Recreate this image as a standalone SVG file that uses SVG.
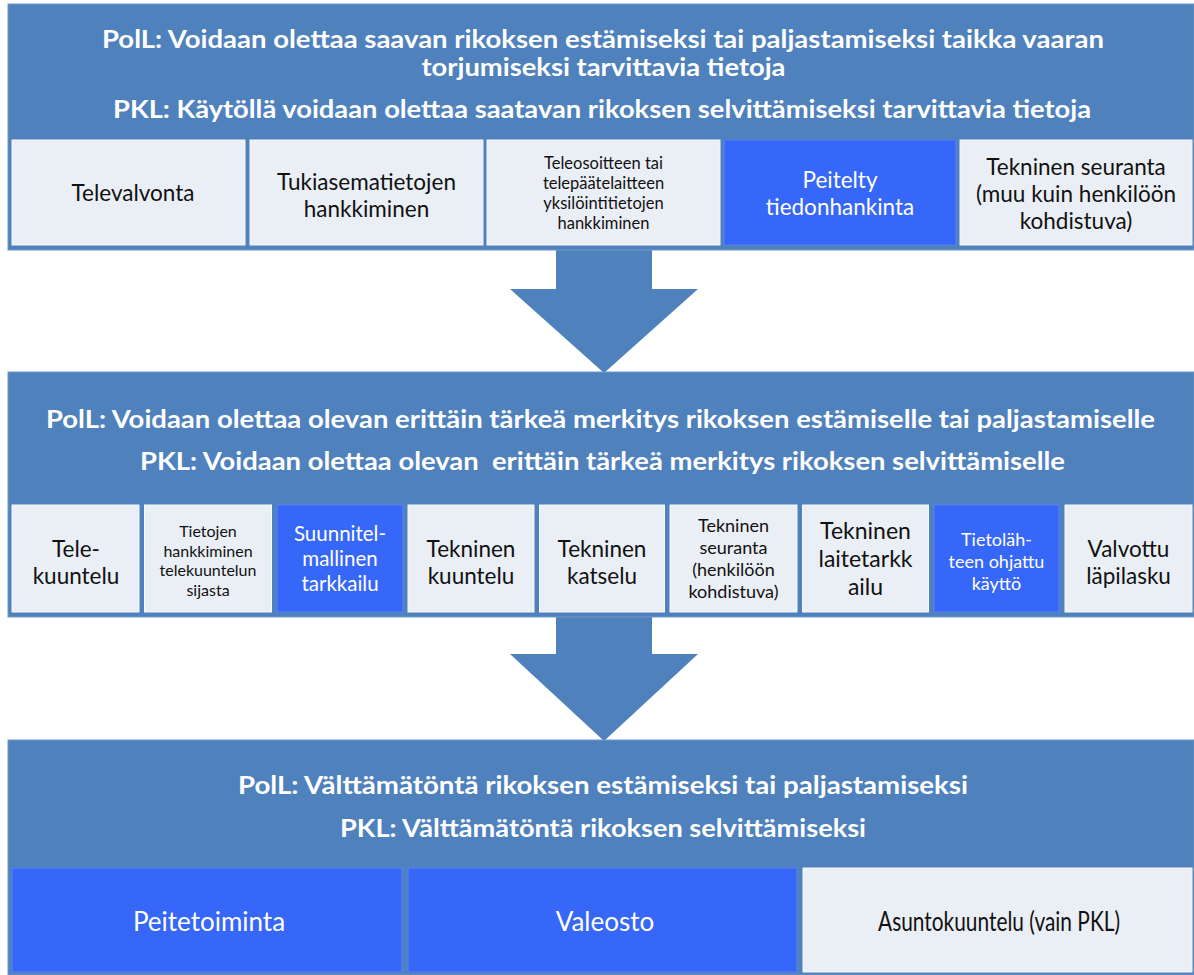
<svg xmlns="http://www.w3.org/2000/svg" width="1194" height="975" viewBox="0 0 1194 975">
<style>
.panel{fill:#4F81BD;stroke:#6F97C9;stroke-width:1}
.lt{fill:#EAEEF5;stroke:#F6F8FB;stroke-width:1}
.bl{fill:#3667F8;stroke:#5A84F5;stroke-width:1}
.hd{font-family:Lato,"Open Sans",sans-serif;font-weight:bold;fill:#ffffff;text-anchor:middle;font-size:24px}
.t{font-family:Lato,"Open Sans",sans-serif;fill:#111111;text-anchor:middle;font-size:22.5px}
.w{fill:#ffffff}
.b{font-size:26px}
.s16{font-size:16px}
.s165{font-size:16.5px}
.s18{font-size:18px}
.s205{font-size:20.5px}
.s23{font-size:23px}
.arrow{fill:#4F81BD}
</style>
<rect width="1194" height="975" fill="#ffffff"/>
<g id="connectors">
<polygon class="arrow" points="556,249 652,249 652,289 698,289 604,373 510,289 556,289"/>
<polygon class="arrow" points="556,616 652,616 652,654 698,654 604,741 510,654 556,654"/>
</g>
<g id="panel1">
<rect class="panel" x="8" y="4" width="1186" height="246"/>
<text class="hd" x="603" y="48" textLength="1002" lengthAdjust="spacingAndGlyphs">PolL: Voidaan olettaa saavan rikoksen estämiseksi tai paljastamiseksi taikka vaaran</text>
<text class="hd" x="603.5" y="76" textLength="364" lengthAdjust="spacingAndGlyphs">torjumiseksi tarvittavia tietoja</text>
<text class="hd" x="602" y="118" textLength="978" lengthAdjust="spacingAndGlyphs">PKL: Käytöllä voidaan olettaa saatavan rikoksen selvittämiseksi tarvittavia tietoja</text>
</g>
<g id="n-televalvonta"><rect class="lt" x="12" y="140" width="233" height="105"/><text class="t" x="133" y="201">Televalvonta</text></g>
<g id="n-tukiasema"><rect class="lt" x="250" y="140" width="233" height="105"/><text class="t" x="366.5" y="190">Tukiasematietojen</text><text class="t" x="366.5" y="217">hankkiminen</text></g>
<g id="n-teleosoite"><rect class="lt" x="487" y="140" width="233" height="105"/><text class="t s165" x="603.5" y="169">Teleosoitteen tai</text><text class="t s165" x="603.5" y="189">telepäätelaitteen</text><text class="t s165" x="603.5" y="209">yksilöintitietojen</text><text class="t s165" x="603.5" y="229">hankkiminen</text></g>
<g id="n-peitelty"><rect class="bl" x="724" y="140" width="232" height="105"/><text class="t w" x="840" y="188">Peitelty</text><text class="t w" x="840" y="215">tiedonhankinta</text></g>
<g id="n-tekninen-seuranta1"><rect class="lt" x="960" y="140" width="232" height="105"/><text class="t" x="1076" y="175">Tekninen seuranta</text><text class="t" x="1076" y="202">(muu kuin henkilöön</text><text class="t" x="1076" y="229">kohdistuva)</text></g>
<g id="panel2">
<rect class="panel" x="8" y="372" width="1186" height="245"/>
<text class="hd" x="600.5" y="428" textLength="1109" lengthAdjust="spacingAndGlyphs">PolL: Voidaan olettaa olevan erittäin tärkeä merkitys rikoksen estämiselle tai paljastamiselle</text>
<text class="hd" x="602.5" y="470" textLength="925" lengthAdjust="spacingAndGlyphs" xml:space="preserve">PKL: Voidaan olettaa olevan  erittäin tärkeä merkitys rikoksen selvittämiselle</text>
</g>
<g id="n-telekuuntelu"><rect class="lt" x="12" y="505" width="127" height="107"/><text class="t" x="76" y="557">Tele-</text><text class="t" x="76" y="584">kuuntelu</text></g>
<g id="n-tietojen"><rect class="lt" x="144.5" y="505" width="127" height="107"/><text class="t s16" x="208" y="537">Tietojen</text><text class="t s16" x="208" y="556.5">hankkiminen</text><text class="t s16" x="208" y="576">telekuuntelun</text><text class="t s16" x="208" y="595.5">sijasta</text></g>
<g id="n-suunnitelmallinen"><rect class="bl" x="277" y="505" width="126" height="107"/><text class="t w s205" x="340" y="541">Suunnitel-</text><text class="t w s205" x="340" y="566">mallinen</text><text class="t w s205" x="340" y="591">tarkkailu</text></g>
<g id="n-tekninen-kuuntelu"><rect class="lt" x="408" y="505" width="126" height="107"/><text class="t" x="471" y="557">Tekninen</text><text class="t" x="471" y="584">kuuntelu</text></g>
<g id="n-tekninen-katselu"><rect class="lt" x="539.5" y="505" width="125" height="107"/><text class="t" x="602" y="557">Tekninen</text><text class="t" x="602" y="584">katselu</text></g>
<g id="n-tekninen-seuranta2"><rect class="lt" x="670" y="505" width="127" height="107"/><text class="t s18" x="733.5" y="532">Tekninen</text><text class="t s18" x="733.5" y="554">seuranta</text><text class="t s18" x="733.5" y="576">(henkilöön</text><text class="t s18" x="733.5" y="598">kohdistuva)</text></g>
<g id="n-laitetarkkailu"><rect class="lt" x="802.5" y="505" width="126" height="107"/><text class="t s23" x="865.5" y="539">Tekninen</text><text class="t s23" x="865.5" y="567">laitetarkk</text><text class="t s23" x="865.5" y="595">ailu</text></g>
<g id="n-tietolahde"><rect class="bl" x="934" y="505" width="125" height="107"/><text class="t w s18" x="996.5" y="546">Tietoläh-</text><text class="t w s18" x="996.5" y="568">teen ohjattu</text><text class="t w s18" x="996.5" y="590">käyttö</text></g>
<g id="n-lapilasku"><rect class="lt" x="1065" y="505" width="127" height="107"/><text class="t" x="1128.5" y="557">Valvottu</text><text class="t" x="1128.5" y="584">läpilasku</text></g>
<g id="panel3">
<rect class="panel" x="8" y="740" width="1186" height="235"/>
<text class="hd" x="603" y="794" style="font-size:25px" textLength="730" lengthAdjust="spacingAndGlyphs">PolL: Välttämätöntä rikoksen estämiseksi tai paljastamiseksi</text>
<text class="hd" x="603" y="837" style="font-size:25px" textLength="526" lengthAdjust="spacingAndGlyphs">PKL: Välttämätöntä rikoksen selvittämiseksi</text>
</g>
<g id="n-peitetoiminta"><rect class="bl" x="12" y="868" width="390" height="104"/><text class="t w b" x="209" y="931">Peitetoiminta</text></g>
<g id="n-valeosto"><rect class="bl" x="408" y="868" width="389" height="104"/><text class="t w b" x="605" y="931">Valeosto</text></g>
<g id="n-asuntokuuntelu"><rect class="lt" x="803" y="868" width="389" height="104"/><text class="t b" x="999" y="931" textLength="242" lengthAdjust="spacingAndGlyphs">Asuntokuuntelu (vain PKL)</text></g>
</svg>
